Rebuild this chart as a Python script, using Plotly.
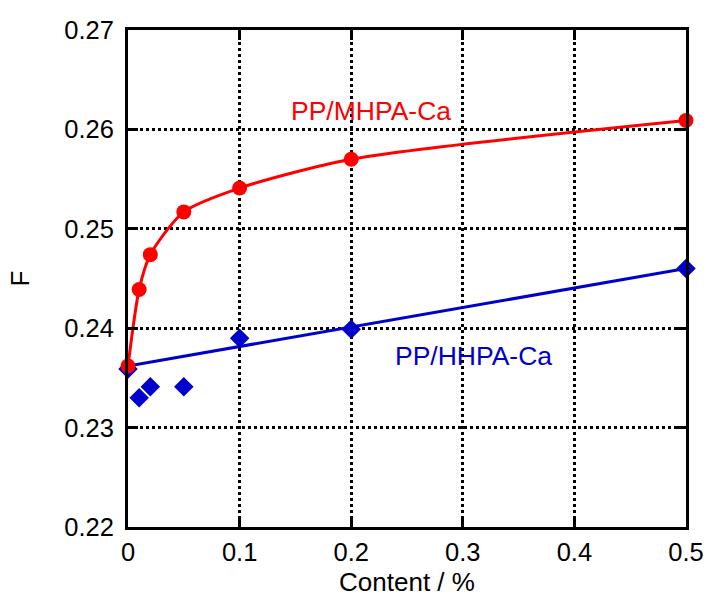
import plotly.graph_objects as go

content = [0, 0.01, 0.02, 0.05, 0.1, 0.2, 0.5]
f_mhpa = [0.2362, 0.2439, 0.2474, 0.2517, 0.2541, 0.2570, 0.2609]
f_hhpa = [0.2359, 0.2330, 0.2341, 0.2341, 0.2390, 0.2399, 0.2460]
fit_hhpa_x = [0, 0.5]
fit_hhpa_y = [0.2362, 0.2460]
x_ticks = [0, 0.1, 0.2, 0.3, 0.4, 0.5]
x_tick_text = ["0", "0.1", "0.2", "0.3", "0.4", "0.5"]
y_ticks = [0.22, 0.23, 0.24, 0.25, 0.26, 0.27]

RED = "#ff0000"
BLUE = "#0000cc"
FONT = "Liberation Sans, Arial"

fig = go.Figure()
fig.add_trace(go.Scatter(x=fit_hhpa_x, y=fit_hhpa_y, mode="lines",
                         line=dict(color=BLUE, width=3), cliponaxis=False, showlegend=False))
fig.add_trace(go.Scatter(x=content, y=f_hhpa, mode="markers",
                         marker=dict(symbol="diamond", size=15, color=BLUE),
                         cliponaxis=False, showlegend=False))
fig.add_trace(go.Scatter(x=content, y=f_mhpa, mode="lines",
                         line=dict(color=RED, width=3, shape="spline", smoothing=0.7),
                         cliponaxis=False, showlegend=False))
fig.add_trace(go.Scatter(x=content, y=f_mhpa, mode="markers",
                         marker=dict(symbol="circle", size=15, color=RED),
                         cliponaxis=False, showlegend=False))

fig.add_annotation(x=0.2173, y=0.26185, text="PP/MHPA-Ca", showarrow=False,
                   font=dict(color=RED, size=26.5, family=FONT))
fig.add_annotation(x=0.31, y=0.2372, text="PP/HHPA-Ca", showarrow=False,
                   font=dict(color=BLUE, size=26.5, family=FONT))

axis_common = dict(showline=True, linecolor="black", linewidth=3, mirror="ticks",
                   ticks="inside", ticklen=10, tickwidth=3, tickcolor="black",
                   showgrid=True, gridcolor="black", gridwidth=2.5, griddash="dot",
                   zeroline=False, automargin=False,
                   tickfont=dict(size=25.5, color="black", family=FONT))

fig.update_xaxes(range=[0, 0.5], tickvals=x_ticks, ticktext=x_tick_text,
                 title=dict(text="Content / %", font=dict(size=26, color="black", family=FONT),
                            standoff=10),
                 **axis_common)
fig.update_yaxes(range=[0.22, 0.27], tickvals=y_ticks, tickformat=".2f",
                 ticklabelstandoff=6,
                 title=dict(text="F", font=dict(size=26, color="black", family=FONT),
                            standoff=28),
                 **axis_common)

fig.update_layout(width=708, height=597, margin=dict(l=128, r=22, t=30, b=70),
                  plot_bgcolor="white", paper_bgcolor="white",
                  font=dict(family=FONT, color="black"))

fig.write_html("out.html")
